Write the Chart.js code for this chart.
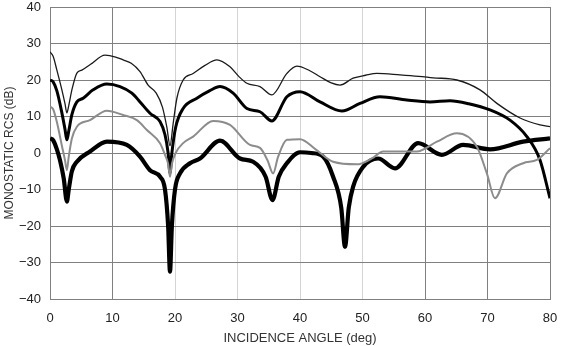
<!DOCTYPE html>
<html>
<head>
<meta charset="utf-8">
<script src="https://cdn.jsdelivr.net/npm/chart.js@4/dist/chart.umd.min.js"></script>
<style>
  html, body { margin: 0; padding: 0; background: #fff; }
  #wrap { width: 564px; height: 346px; }
</style>
</head>
<body>
<div id="wrap"><canvas id="rcsChart"></canvas></div>
<script>
// incidence angle (deg) and RCS (dB), one pair of arrays per curve
const angles1 = [0, 0.5, 1.1, 1.9, 2.4, 2.7, 3.0, 3.5, 4.3, 5.1, 6.5, 8.8, 10.5, 11.7, 13, 14.4, 15.7, 17, 18, 18.7, 19.2, 19.7, 20.3, 21.3, 22.9, 24.8, 26.7, 28.8, 30.2, 31.5, 33.6, 35.5, 37.9, 39.5, 41.5, 43.2, 45, 46.4, 48.5, 50.5, 52.3, 56, 59, 61.3, 65.1, 68.8, 71.5, 75.2, 78.4, 80];
const rcs1 = [27.7, 26.5, 22.7, 17.3, 13.5, 11, 13, 17.3, 21.9, 22.7, 24.3, 26.8, 26.3, 25.5, 24.6, 22.3, 18.6, 16.4, 12.5, 7, 2, 8, 15, 20, 21.8, 24, 25.5, 23.6, 21, 19.1, 18.2, 15.9, 21.8, 23.8, 22.6, 20.9, 19.2, 18.6, 20.5, 21.3, 21.8, 21.4, 21, 20.6, 20, 17.3, 13.6, 9.6, 7.7, 7.2];

const angles2 = [0, 0.5, 1.1, 1.9, 2.4, 2.7, 3.0, 3.5, 4.3, 5.3, 6.9, 9.1, 11.2, 13.1, 14.4, 16, 17.6, 18.4, 18.9, 19.2, 19.5, 20.1, 21.3, 23.5, 25.5, 27.2, 29.3, 31.5, 33.6, 35.5, 37.9, 40, 43.2, 46.7, 49.6, 52.8, 57.1, 60.8, 64, 67, 70.4, 73.6, 76.3, 78.4, 80];
const rcs2 = [20, 19.5, 17, 11, 6.5, 3.6, 6, 10.5, 14, 15, 17.3, 18.9, 18.2, 16.4, 14, 10.9, 8.6, 5, 0, -5.5, 0, 7, 12.2, 15, 17, 18.2, 16.4, 12.2, 11.3, 8.8, 15.4, 16.8, 14, 11.5, 13.6, 15.4, 14.5, 14, 14.3, 13.5, 11.8, 9, 4.5, -1.9, -12.4];

const angles3 = [0, 0.5, 1.1, 1.9, 2.4, 2.7, 3.0, 3.5, 4.3, 6.4, 9.1, 11.7, 13.9, 15.5, 17.6, 18.4, 18.9, 19.2, 19.5, 20.1, 21.3, 22.9, 26.1, 28.8, 32, 33.6, 34.8, 35.7, 36.5, 37.9, 40, 42.5, 45.3, 49.1, 51.5, 53.3, 58.7, 61.9, 65.1, 68.3, 69.9, 71.2, 73.1, 75.7, 77.9, 80];
const rcs3 = [12.7, 12, 8.5, 2, -2, -4.7, -1, 4, 7.2, 9, 11.6, 10.4, 9, 6.3, 2.7, -0.5, -3, -6.5, -3, 0, 2.7, 4.5, 8.8, 7.7, 2.2, 1.4, -2, -5.6, -1, 3.6, 3.8, 1, -2.4, -3.1, -1.5, 0.4, 0.4, 3.1, 5.4, 1.7, -5.6, -12.4, -5.6, -2.8, -1.9, 1.3];

const angles4 = [0, 0.5, 1.1, 1.6, 2.2, 2.7, 3.0, 3.5, 4.3, 6.4, 9.1, 12.3, 14.4, 16, 17.6, 18.4, 18.9, 19.2, 19.5, 20.0, 20.8, 22.4, 24, 27.2, 30.4, 32.5, 34.5, 35.6, 36.6, 37.9, 40, 41.8, 43.7, 45.3, 46.6, 47.2, 47.8, 48.5, 50.1, 52.5, 55.2, 58.9, 62.7, 66.1, 70.4, 75.7, 80];
const rcs4 = [4, 3.5, 1, -2, -7, -13.3, -10, -5, -2.4, 0.4, 3.1, 2.2, -1, -4.7, -6.5, -10, -20, -32.5, -20, -10, -5.6, -2.8, -1.5, 3.4, -1.5, -2.4, -6.5, -12.9, -6.5, -2.8, 0.2, 0, -1, -6.5, -15, -25.7, -15, -9.2, -3.8, -1.5, -4.2, 2.7, -0.5, 2.2, 1, 3.1, 4];

const xTicks = [0, 10, 20, 30, 40, 50, 60, 70, 80];
const yTicks = [-40, -30, -20, -10, 0, 10, 20, 30, 40];

function toPoints(xs, ys) {
  return xs.map((x, i) => ({ x: x, y: ys[i] }));
}

function curve(xs, ys, color, width) {
  return {
    data: toPoints(xs, ys),
    borderColor: color,
    borderWidth: width,
    pointRadius: 0,
    fill: false,
    cubicInterpolationMode: 'monotone'
  };
}

const tickFont = { family: 'Liberation Sans, Arial, sans-serif', size: 13 };

new Chart(document.getElementById('rcsChart').getContext('2d'), {
  type: 'line',
  data: {
    datasets: [
      curve(angles3, rcs3, '#8c8c8c', 2),
      curve(angles1, rcs1, '#1a1a1a', 1.3),
      curve(angles2, rcs2, '#000000', 3),
      curve(angles4, rcs4, '#000000', 4.2)
    ]
  },
  options: {
    responsive: true,
    maintainAspectRatio: false,
    animation: false,
    layout: { padding: 0 },
    plugins: { legend: { display: false }, tooltip: { enabled: false } },
    scales: {
      x: {
        type: 'linear',
        min: 0,
        max: 80,
        afterBuildTicks: (axis) => { axis.ticks = xTicks.map(v => ({ value: v })); },
        afterFit: (axis) => {
          axis.height = 47;
          axis.paddingLeft = 0;
          axis.paddingRight = 14;
        },
        grid: {
          drawTicks: false,
          color: (ctx) => {
            const v = ctx.tick && ctx.tick.value;
            return (v === 20 || v === 30 || v === 40 || v === 50) ? '#d4d4d4' : '#808080';
          },
          lineWidth: 1
        },
        border: { color: '#808080' },
        ticks: { color: '#222', font: tickFont, padding: 12, maxRotation: 0 },
        title: {
          display: true,
          text: 'INCIDENCE ANGLE (deg)',
          color: '#333',
          font: { family: 'Liberation Sans, Arial, sans-serif', size: 13 },
          padding: { top: 0, bottom: 0 }
        }
      },
      y: {
        min: -40,
        max: 40,
        afterBuildTicks: (axis) => { axis.ticks = yTicks.map(v => ({ value: v })); },
        afterFit: (axis) => {
          axis.width = 50;
          axis.paddingTop = 7;
          axis.paddingBottom = 0;
        },
        grid: { drawTicks: false, color: '#808080', lineWidth: 1 },
        border: { color: '#808080' },
        ticks: {
          color: '#222',
          font: tickFont,
          padding: 9,
          callback: (v) => String(v).replace('-', '\u2212')
        },
        title: {
          display: true,
          text: 'MONOSTATIC RCS (dB)',
          color: '#333',
          font: { family: 'Liberation Sans, Arial, sans-serif', size: 12 },
          padding: { top: 2, bottom: 0 }
        }
      }
    }
  }
});
</script>
</body>
</html>
